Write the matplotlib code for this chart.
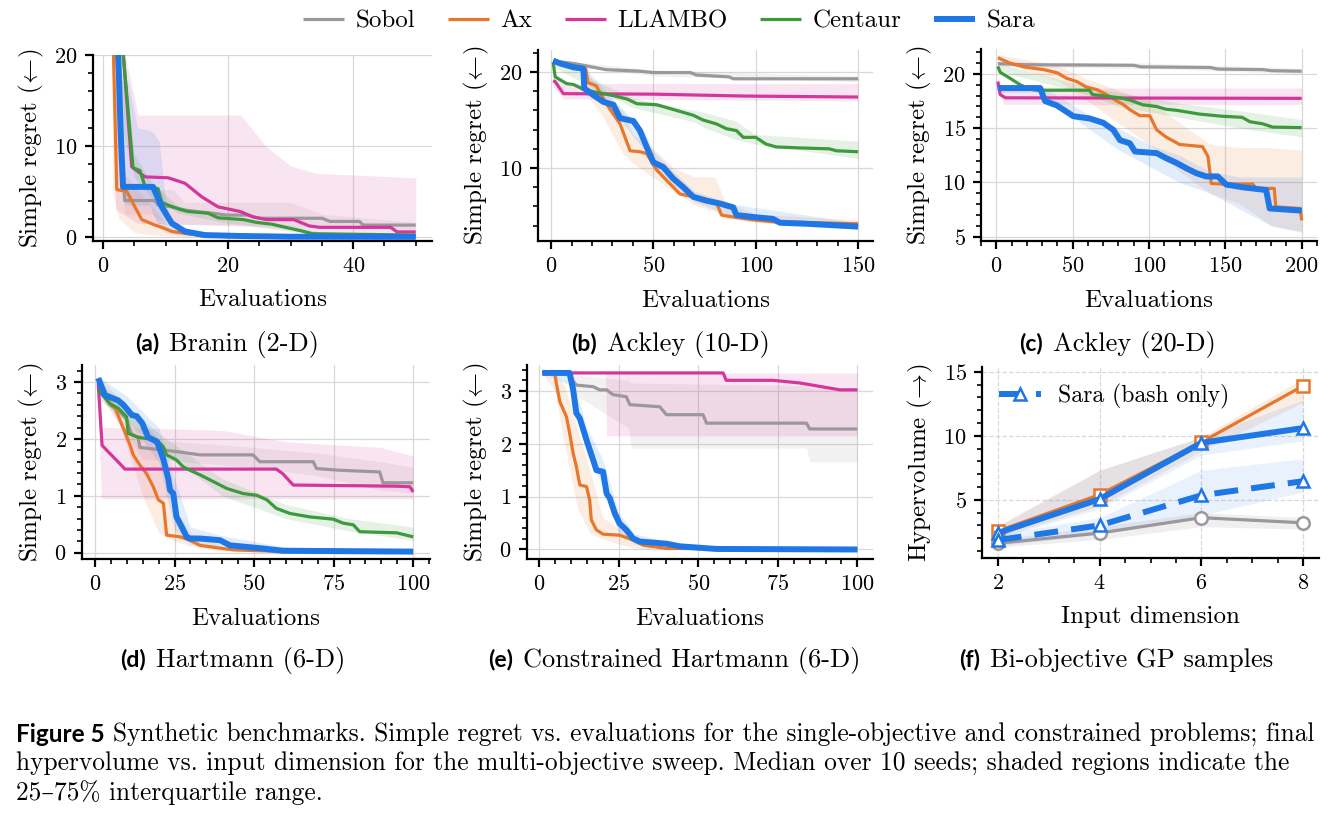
import numpy as np
import matplotlib.pyplot as plt
from matplotlib.ticker import MultipleLocator

plt.rcParams['font.family'] = ['cmr10', 'DejaVu Serif']
plt.rcParams['mathtext.fontset'] = 'cm'
plt.rcParams['axes.formatter.use_mathtext'] = True

SOBOL = '#9c979c'
AX = '#e8762b'
LLAMBO = '#d4369b'
CENTAUR = '#3c9a3c'
SARA = '#1f77e6'

methods = ['Sobol', 'Ax', 'LLAMBO', 'Centaur', 'Sara']

# ---------------- (a) Branin (2-D) ----------------
bran_sobol_x = [1, 2, 3.5, 8.3, 8.8, 11, 13.4, 17.6, 19.8, 23, 25, 35, 36.3, 41, 41.6, 50]
bran_sobol_y = [38, 22, 4.0, 4.0, 3.5, 3.3, 2.9, 2.6, 2.4, 2.4, 2.05, 2.05, 1.7, 1.7, 1.3, 1.3]
bran_ax_x = [1, 1.5, 2.2, 3.8, 5.1, 6.2, 8.3, 9.6, 11, 13.1, 16, 20, 50]
bran_ax_y = [40, 25, 5.2, 5.0, 3.3, 1.9, 1.3, 1.0, 0.6, 0.4, 0.1, 0.03, 0.0]
bran_llambo_x = [1, 2, 3.25, 4.6, 6.7, 10.4, 13.1, 15.8, 18.4, 21.9, 24, 26.2, 30.5, 33, 34.7, 46, 47, 50]
bran_llambo_y = [45, 32, 20, 7.7, 6.6, 6.5, 5.9, 4.4, 3.3, 2.8, 2.2, 1.9, 1.9, 1.2, 1.05, 1.05, 0.55, 0.55]
bran_centaur_x = [1, 2, 3.5, 4.8, 5.9, 6.7, 8.8, 9.4, 10.4, 12.4, 13.6, 16.8, 18.4, 22.5, 24.5, 27, 29.5, 31.5, 33.5, 50]
bran_centaur_y = [40, 30, 18, 7.6, 7.3, 5.6, 5.3, 3.8, 3.5, 3.0, 2.8, 2.6, 2.1, 1.9, 1.6, 1.4, 1.0, 0.7, 0.35, 0.2]
bran_sara_x = [1, 2, 2.8, 3.2, 8, 9.4, 11, 13.1, 16.3, 22, 30, 50]
bran_sara_y = [45, 30, 12, 5.5, 5.5, 3.3, 1.5, 0.6, 0.2, 0.1, 0.02, 0.0]

# IQR bands (x, lower, upper)
bran_sobol_band = ([2, 3.5, 8, 8.6, 11.3, 13, 30, 35, 50],
                   [10, 2.5, 2.5, 2.0, 1.5, 1.4, 1.2, 1.0, 0.8],
                   [30, 5.5, 5.5, 5.2, 5.2, 3.8, 3.8, 2.5, 1.6])
bran_ax_band = ([1.5, 2.5, 5, 7, 10, 14], [5, 2, 0.5, 0.3, 0.1, 0], [25, 8, 5.5, 4, 1.5, 0.5])
bran_llambo_band = ([2, 5.6, 22, 26, 30, 34, 50],
                    [3, 1.5, 1.2, 1.0, 0.6, 0.3, 0.2],
                    [25, 13.4, 13.4, 10, 7.8, 7.0, 6.5])
bran_centaur_band = ([3, 5, 8, 12, 20, 30, 35, 50],
                     [12, 6.5, 4.2, 2.6, 1.5, 0.8, 0.1, 0.05],
                     [22, 9, 5.8, 3.4, 2.2, 1.3, 0.5, 0.35])
bran_sara_band = ([2.5, 3, 4, 5.5, 7.5, 8, 9, 10, 11, 14],
                  [12, 4.0, 3.5, 3.5, 3.5, 2.5, 1.0, 0.5, 0.3, 0.1],
                  [20, 17.2, 17.2, 12, 11.7, 11.5, 10.5, 4, 1.5, 0.8])

# ---------------- (b) Ackley (10-D) ----------------
ack10_sobol_x = [1, 11, 20.7, 27, 43, 50, 68, 71, 87, 89, 150]
ack10_sobol_y = [21.15, 20.9, 20.5, 20.25, 20.1, 19.95, 19.95, 19.7, 19.5, 19.3, 19.3]
ack10_ax_x = [1, 10, 17, 18, 22, 27, 33.7, 38.6, 43.4, 46.7, 51.6, 56.5, 63, 69.5, 76, 81, 83.3, 89, 98.7, 108.5, 150]
ack10_ax_y = [21.1, 20.6, 20.3, 18.9, 18.6, 16.7, 14.6, 11.8, 11.7, 11.5, 9.8, 8.7, 7.3, 7.0, 6.6, 6.3, 5.1, 4.9, 4.6, 4.4, 4.2]
ack10_llambo_x = [1, 2, 6, 50, 95, 150]
ack10_llambo_y = [19.1, 19.0, 17.75, 17.7, 17.5, 17.4]
ack10_centaur_x = [1, 2, 7.6, 11, 15.8, 22, 30.4, 37, 42, 51.5, 56.5, 64.6, 69.5, 74.3, 80.8, 85.7, 90.6, 93.9,
                   100, 105, 110, 121.5, 136, 139.4, 150]
ack10_centaur_y = [21.0, 19.5, 18.8, 18.7, 18.2, 17.9, 17.55, 17.2, 16.7, 16.6, 16.3, 15.8, 15.5, 15.0, 14.6, 14.1,
                   13.9, 13.2, 13.2, 12.5, 12.2, 12.1, 12.0, 11.8, 11.7]
ack10_sara_x = [1, 4.4, 11, 15.8, 16.2, 20.7, 25.5, 30.4, 33.7, 40.2, 43.4, 46.7, 50, 54.8, 59.7, 64.6, 69.5, 76,
                82.5, 89, 90.6, 98.7, 108.5, 111.8, 124.8, 150]
ack10_sara_y = [21.2, 20.9, 20.5, 20.35, 18.3, 17.6, 16.9, 16.6, 15.2, 14.9, 13.9, 12.2, 10.6, 10.1, 8.9, 8.0, 7.0,
                6.6, 6.3, 5.9, 5.1, 4.9, 4.7, 4.3, 4.2, 3.9]

ack10_sobol_band = ([1, 50, 150], [20.9, 19.6, 19.0], [21.3, 20.2, 19.6])
ack10_ax_band = ([16, 25, 35, 40, 50, 60, 70, 75, 80, 85, 100, 150],
                 [18.0, 15.5, 11.5, 10.5, 9.0, 7.5, 6.2, 5.8, 5.5, 4.8, 4.3, 3.8],
                 [20.5, 17.5, 16.0, 13.5, 12.0, 10.0, 9.1, 9.1, 9.1, 6.5, 5.2, 4.6])
ack10_llambo_band = ([1, 6, 150], [18.5, 17.2, 17.0], [19.5, 18.8, 18.8])
ack10_centaur_band = ([1, 40, 70, 75, 90, 100, 150],
                      [20.5, 16.3, 14.8, 14.2, 13.0, 12.5, 11.0],
                      [21.2, 17.3, 16.0, 15.8, 14.9, 13.5, 12.8])
ack10_sara_band = ([1, 16, 30, 45, 50, 60, 70, 90, 150],
                   [21.0, 19.8, 16.0, 12.0, 9.8, 8.2, 6.5, 4.8, 3.6],
                   [21.4, 20.6, 17.2, 14.0, 11.8, 9.6, 7.6, 6.2, 4.3])

# ---------------- (c) Ackley (20-D) ----------------
ack20_sobol_x = [1, 20, 90, 95, 140, 145, 175, 180, 200]
ack20_sobol_y = [20.95, 20.85, 20.8, 20.65, 20.6, 20.45, 20.4, 20.3, 20.25]
ack20_ax_x = [1, 9, 18, 31, 40, 46, 52.7, 59, 66, 72, 79, 83, 87.5, 94, 100.5, 105, 111, 120, 135, 138.6, 140.8,
              148, 168, 170, 182, 183, 199, 200]
ack20_ax_y = [21.5, 21.0, 20.65, 20.4, 20.1, 19.6, 19.3, 18.8, 18.55, 18.1, 17.5, 17.2, 16.7, 16.15, 16.15, 14.85,
              14.2, 13.5, 13.3, 12.4, 9.9, 9.85, 9.85, 9.45, 9.45, 7.75, 7.6, 6.5]
ack20_llambo_x = [1, 2.6, 6, 200]
ack20_llambo_y = [19.3, 18.1, 17.8, 17.75]
ack20_centaur_x = [1, 2.6, 9, 15.7, 22, 26.5, 61, 63, 81, 87.5, 96, 105, 111, 118, 133, 148, 161, 166, 174.5, 181, 200]
ack20_centaur_y = [20.7, 20.15, 19.6, 19.0, 18.6, 18.5, 18.5, 18.1, 17.8, 17.6, 17.15, 17.0, 16.75, 16.65, 16.3,
                   16.1, 16.0, 15.6, 15.4, 15.1, 15.05]
ack20_sara_x = [1, 28.7, 32, 39.6, 44, 50.5, 61, 70, 76.6, 81, 87.5, 90.8, 105, 111, 118, 124.5, 131, 137.5, 145,
                150.6, 161.5, 176.7, 179, 200]
ack20_sara_y = [18.7, 18.7, 17.5, 17.1, 16.7, 16.1, 15.9, 15.5, 14.85, 13.9, 13.6, 12.85, 12.7, 12.25, 11.8, 11.3,
                10.85, 10.55, 10.55, 9.8, 9.55, 9.3, 7.6, 7.4]

ack20_sobol_band = ([1, 100, 200], [20.7, 20.5, 20.0], [21.1, 21.0, 20.5])
ack20_ax_band = ([1, 40, 60, 80, 100, 120, 140, 160, 180, 200],
                 [21.2, 19.4, 17.5, 15.5, 13.5, 11.0, 9.0, 8.0, 6.0, 5.5],
                 [21.8, 20.8, 19.5, 18.5, 17.5, 15.5, 13.5, 13.2, 13.2, 13.0])
ack20_llambo_band = ([1, 5, 200], [18.7, 17.2, 17.2], [19.6, 18.7, 18.7])
ack20_centaur_band = ([1, 60, 80, 120, 160, 200],
                      [20.3, 18.1, 17.0, 16.0, 15.0, 14.2],
                      [21.0, 18.8, 18.3, 17.3, 16.6, 15.8])
ack20_sara_band = ([1, 28, 60, 80, 100, 120, 140, 160, 180, 200],
                   [18.3, 18.3, 15.0, 13.0, 11.5, 10.0, 9.0, 7.5, 6.0, 5.4],
                   [19.0, 19.0, 16.3, 15.0, 13.5, 12.5, 11.0, 10.5, 10.5, 10.5])

# ---------------- (d) Hartmann (6-D) ----------------
hart_sobol_x = [1, 4.7, 7.3, 9.9, 11.5, 13.5, 14.1, 22.5, 26.7, 33, 49.7, 51.8, 68.6, 69.6, 77, 89.5, 90.5, 100]
hart_sobol_y = [2.9, 2.6, 2.5, 2.35, 2.08, 2.03, 1.85, 1.8, 1.77, 1.72, 1.72, 1.6, 1.6, 1.48, 1.45, 1.42, 1.23, 1.23]
hart_ax_x = [1, 3.7, 6.3, 9.4, 11, 12, 14.1, 16.2, 18.3, 19.9, 21.5, 22.5, 26.7, 29.8, 33, 39.3, 43.5, 60, 100]
hart_ax_y = [3.06, 2.68, 2.54, 2.12, 1.89, 1.72, 1.54, 1.39, 1.16, 0.93, 0.87, 0.31, 0.28, 0.22, 0.13, 0.08, 0.05,
             0.02, 0.01]
hart_llambo_x = [1, 2.2, 3.7, 7.2, 9.4, 57, 59, 62.3, 94.8, 99, 100]
hart_llambo_y = [2.98, 1.89, 1.8, 1.6, 1.47, 1.47, 1.39, 1.19, 1.17, 1.16, 1.07]
hart_centaur_x = [1, 4.7, 7.3, 9.9, 10.4, 13.5, 19.4, 21.5, 22.5, 25.6, 27.7, 29.8, 33, 37.2, 41.4, 46.6, 50.8, 54,
                  57, 61.3, 67.5, 74.9, 78, 81.2, 83.2, 94.8, 100]
hart_centaur_y = [2.86, 2.62, 2.54, 2.39, 2.1, 2.03, 1.98, 1.86, 1.72, 1.63, 1.51, 1.45, 1.37, 1.25, 1.13, 1.04,
                  1.01, 0.93, 0.78, 0.69, 0.63, 0.59, 0.52, 0.49, 0.37, 0.35, 0.28]
hart_sara_x = [1, 3.1, 7.2, 8.9, 11.6, 13.1, 14.8, 16.7, 19.5, 21.4, 23, 23.6, 24.6, 25.6, 27.2, 28.8, 29.8, 33,
               39.3, 42.4, 51.8, 59, 100]
hart_sara_y = [3.07, 2.77, 2.68, 2.6, 2.42, 2.4, 2.28, 2.03, 1.95, 1.66, 1.31, 1.1, 1.04, 0.63, 0.46, 0.28, 0.25,
               0.25, 0.22, 0.13, 0.08, 0.035, 0.02]

hart_sobol_band = ([1, 15, 50, 70, 90, 100], [2.8, 1.65, 1.5, 1.35, 1.1, 1.05], [3.05, 2.0, 1.85, 1.75, 1.6, 1.5])
hart_ax_band = ([1, 8, 15, 20, 25, 30, 40], [2.9, 2.2, 1.0, 0.35, 0.2, 0.12, 0.03], [3.1, 2.7, 2.3, 2.0, 0.8, 0.35, 0.12])
hart_llambo_band = ([1, 2, 10, 40, 60, 90, 100],
                    [2.8, 0.95, 0.95, 0.95, 0.95, 0.95, 0.95],
                    [3.0, 2.2, 2.2, 2.15, 1.95, 1.85, 1.7])
hart_centaur_band = ([1, 20, 40, 60, 80, 100], [2.7, 1.85, 1.0, 0.6, 0.38, 0.22], [3.0, 2.1, 1.3, 0.85, 0.6, 0.45])
hart_sara_band = ([1, 10, 20, 25, 30, 40, 60, 100],
                  [2.9, 2.35, 1.6, 0.4, 0.15, 0.1, 0.01, 0.0],
                  [3.1, 2.75, 2.2, 1.3, 0.45, 0.3, 0.1, 0.05])

# ---------------- (e) Constrained Hartmann (6-D) ----------------
chart_sobol_x = [1, 8.6, 11.7, 17, 19, 21.2, 23.2, 27.4, 28.5, 37.9, 40, 51.5, 52.6, 84, 85, 100]
chart_sobol_y = [3.34, 3.34, 3.11, 3.08, 3.02, 3.02, 2.93, 2.89, 2.74, 2.7, 2.55, 2.55, 2.39, 2.39, 2.28, 2.28]
chart_ax_x = [1, 4.9, 5.4, 6.5, 8.6, 9.6, 10.7, 11.7, 12.8, 14.9, 15.9, 16.4, 18, 20.1, 25.3, 29.5, 32.7, 40, 100]
chart_ax_y = [3.34, 3.34, 3.15, 2.8, 2.51, 2.2, 1.82, 1.57, 1.22, 1.19, 0.93, 0.56, 0.37, 0.29, 0.27, 0.18, 0.08,
              0.02, 0.0]
chart_llambo_x = [1, 57.8, 58.8, 73.5, 81.9, 94.5, 100]
chart_llambo_y = [3.34, 3.34, 3.2, 3.2, 3.15, 3.02, 3.02]
chart_sara_x = [1, 9.6, 10.7, 11.7, 12.8, 14.9, 17, 18, 20.1, 21.2, 22.2, 23.8, 25.3, 27.4, 29.5, 31.6, 40, 44.2,
                55.7, 100]
chart_sara_y = [3.34, 3.34, 3.02, 2.58, 2.48, 2.07, 1.69, 1.5, 1.47, 1.06, 0.97, 0.68, 0.49, 0.37, 0.21, 0.15, 0.11,
                0.06, 0.01, 0.0]

chart_sobol_band = ([1, 8, 12, 20, 28, 29, 84, 85, 100],
                    [3.34, 3.34, 2.9, 2.6, 2.3, 1.92, 1.92, 1.66, 1.66],
                    [3.34, 3.34, 3.3, 3.25, 3.2, 3.15, 3.1, 3.05, 3.05])
chart_ax_band = ([1, 5, 8, 12, 16, 20, 25, 30, 35],
                 [3.34, 3.0, 2.0, 0.8, 0.3, 0.2, 0.1, 0.03, 0.0],
                 [3.34, 3.34, 3.1, 2.3, 1.5, 0.6, 0.4, 0.25, 0.1])
chart_llambo_band = ([20.9, 21.2, 100], [3.34, 2.15, 2.15], [3.34, 3.34, 3.34])
chart_sara_band = ([1, 10, 15, 20, 25, 30, 40, 60],
                   [3.34, 3.1, 1.8, 1.2, 0.3, 0.1, 0.05, 0.0],
                   [3.34, 3.34, 2.3, 1.7, 0.7, 0.3, 0.15, 0.03])

# ---------------- (f) Bi-objective GP samples ----------------
dims = [2, 4, 6, 8]
mo_sobol = [1.6, 2.4, 3.6, 3.2]
mo_ax = [2.55, 5.4, 9.5, 13.9]
mo_sara = [2.4, 5.05, 9.45, 10.6]
mo_sara_bash = [1.85, 3.0, 5.35, 6.45]
mo_sobol_lo, mo_sobol_hi = [1.3, 1.9, 2.9, 2.7], [1.9, 2.9, 4.0, 3.6]
mo_ax_lo, mo_ax_hi = [2.1, 4.5, 8.8, 12.6], [3.0, 7.3, 9.9, 14.5]
mo_sara_lo, mo_sara_hi = [2.0, 4.3, 8.5, 9.6], [2.9, 7.3, 9.9, 12.8]
mo_bash_lo, mo_bash_hi = [1.4, 2.3, 3.8, 5.6], [2.3, 3.6, 7.3, 8.2]

colors = {'Sobol': SOBOL, 'Ax': AX, 'LLAMBO': LLAMBO, 'Centaur': CENTAUR, 'Sara': SARA}
widths = {'Sobol': 2.3, 'Ax': 2.3, 'LLAMBO': 2.3, 'Centaur': 2.3, 'Sara': 4.3}

TICK = 16
LAB = 18
SERIF = ['cmr10', 'DejaVu Serif']

W, H = 1336, 815
fig = plt.figure(figsize=(W / 100, H / 100), dpi=100)


def box(l, t, r, b):
    return [l / W, 1 - b / H, (r - l) / W, (b - t) / H]


def style(ax, xmaj, xmin, ymaj, ymin, dashed=False):
    for s in ['top', 'right']:
        ax.spines[s].set_visible(False)
    for s in ['left', 'bottom']:
        ax.spines[s].set_linewidth(1.6)
    ax.xaxis.set_major_locator(MultipleLocator(xmaj))
    ax.xaxis.set_minor_locator(MultipleLocator(xmin))
    ax.yaxis.set_major_locator(MultipleLocator(ymaj))
    ax.yaxis.set_minor_locator(MultipleLocator(ymin))
    ax.tick_params(which='major', length=6, width=1.6, labelsize=TICK, pad=5)
    ax.tick_params(which='minor', length=3.5, width=1.2)
    ax.grid(True, which='major', color='#d8d8d8', lw=0.9, ls='--' if dashed else '-')
    ax.set_axisbelow(True)


def regret_panel(rect, data, xlim, ylim, xt, yt):
    ax = fig.add_axes(box(*rect))
    lines = {}
    for name, x, y, band in data:
        bx, lo, hi = band
        ax.fill_between(bx, lo, hi, color=colors[name], alpha=0.13, lw=0)
    for name, x, y, band in data:
        ln, = ax.plot(x, y, color=colors[name], lw=widths[name], label=name,
                      solid_capstyle='butt', zorder=3 if name != 'Sara' else 4)
        lines[name] = ln
    ax.set_xlim(*xlim)
    ax.set_ylim(*ylim)
    style(ax, *xt, *yt)
    ax.set_xlabel('Evaluations', fontsize=LAB, labelpad=9.5)
    ax.set_ylabel(r'Simple regret $(\!\leftarrow\!)$', fontsize=LAB, labelpad=6)
    return ax, lines


ax_a, lines = regret_panel((93, 55, 432, 241), [
    ('Sobol', bran_sobol_x, bran_sobol_y, bran_sobol_band),
    ('Ax', bran_ax_x, bran_ax_y, bran_ax_band),
    ('LLAMBO', bran_llambo_x, bran_llambo_y, bran_llambo_band),
    ('Centaur', bran_centaur_x, bran_centaur_y, bran_centaur_band),
    ('Sara', bran_sara_x, bran_sara_y, bran_sara_band)],
    (-1.6, 52.6), (-0.45, 20), (20, 5), (10, 2))

regret_panel((538, 50, 873, 241), [
    ('Sobol', ack10_sobol_x, ack10_sobol_y, ack10_sobol_band),
    ('Ax', ack10_ax_x, ack10_ax_y, ack10_ax_band),
    ('LLAMBO', ack10_llambo_x, ack10_llambo_y, ack10_llambo_band),
    ('Centaur', ack10_centaur_x, ack10_centaur_y, ack10_centaur_band),
    ('Sara', ack10_sara_x, ack10_sara_y, ack10_sara_band)],
    (-6.4, 157.3), (2.4, 22.3), (50, 10), (10, 2))

regret_panel((981, 49, 1317, 241), [
    ('Sobol', ack20_sobol_x, ack20_sobol_y, ack20_sobol_band),
    ('Ax', ack20_ax_x, ack20_ax_y, ack20_ax_band),
    ('LLAMBO', ack20_llambo_x, ack20_llambo_y, ack20_llambo_band),
    ('Centaur', ack20_centaur_x, ack20_centaur_y, ack20_centaur_band),
    ('Sara', ack20_sara_x, ack20_sara_y, ack20_sara_band)],
    (-10, 210), (4.6, 22.3), (50, 10), (5, 1))

regret_panel((82, 365, 430, 559), [
    ('Sobol', hart_sobol_x, hart_sobol_y, hart_sobol_band),
    ('Ax', hart_ax_x, hart_ax_y, hart_ax_band),
    ('LLAMBO', hart_llambo_x, hart_llambo_y, hart_llambo_band),
    ('Centaur', hart_centaur_x, hart_centaur_y, hart_centaur_band),
    ('Sara', hart_sara_x, hart_sara_y, hart_sara_band)],
    (-4.1, 105.3), (-0.11, 3.3), (25, 5), (1, 0.2))

regret_panel((527, 365, 873, 559), [
    ('Sobol', chart_sobol_x, chart_sobol_y, chart_sobol_band),
    ('Ax', chart_ax_x, chart_ax_y, chart_ax_band),
    ('LLAMBO', chart_llambo_x, chart_llambo_y, chart_llambo_band),
    ('Sara', chart_sara_x, chart_sara_y, chart_sara_band)],
    (-3.8, 104.9), (-0.18, 3.49), (25, 5), (1, 0.2))

# (f) hypervolume sweep
ax_f = fig.add_axes(box(982, 367, 1319, 558))
ax_f.fill_between(dims, mo_sobol_lo, mo_sobol_hi, color=SOBOL, alpha=0.15, lw=0)
ax_f.fill_between(dims, mo_ax_lo, mo_ax_hi, color=AX, alpha=0.13, lw=0)
ax_f.fill_between(dims, mo_sara_lo, mo_sara_hi, color=SARA, alpha=0.10, lw=0)
ax_f.fill_between(dims, mo_bash_lo, mo_bash_hi, color=SARA, alpha=0.10, lw=0)
mk = dict(markersize=9, markeredgewidth=1.8, markerfacecolor='white')
ax_f.plot(dims, mo_sobol, color=SOBOL, lw=2.3, marker='o', markeredgecolor=SOBOL, **mk)
ax_f.plot(dims, mo_ax, color=AX, lw=2.3, marker='s', markeredgecolor=AX, **mk)
ax_f.plot(dims, mo_sara, color=SARA, lw=4.3, marker='^', markeredgecolor=SARA, **mk)
bash, = ax_f.plot(dims, mo_sara_bash, color=SARA, lw=4.3, ls=(0, (4, 2.2)), marker='^',
                  markeredgecolor=SARA, label='Sara (bash only)', **mk)
ax_f.set_xlim(1.69, 8.31)
ax_f.set_ylim(0.45, 15.37)
style(ax_f, 2, 0.5, 5, 1, dashed=True)
ax_f.set_xlabel('Input dimension', fontsize=LAB, labelpad=9.5)
ax_f.set_ylabel(r'Hypervolume $(\!\rightarrow\!)$', fontsize=LAB, labelpad=6)
ax_f.legend(handles=[bash], loc='upper left', frameon=False, prop={'family': SERIF, 'size': 17},
            handlelength=1.8, handletextpad=0.7, borderaxespad=0.3, bbox_to_anchor=(0.0, 1.0))

# shared legend on top
fig.legend([lines[m] for m in methods], methods, loc='center', ncol=5, frameon=False,
           bbox_to_anchor=(669 / W, 1 - 21 / H), prop={'family': SERIF, 'size': 18},
           handlelength=1.65, columnspacing=1.3, handletextpad=0.45)

# sub-captions
subcaps = [(159, 344, '(a)', 'Branin (2-D)'),
           (597, 344, '(b)', 'Ackley (10-D)'),
           (1043, 344, '(c)', 'Ackley (20-D)'),
           (146, 660, '(d)', 'Hartmann (6-D)'),
           (513, 660, '(e)', 'Constrained Hartmann (6-D)'),
           (980, 660, '(f)', 'Bi-objective GP samples')]
for xr, yc, tag, txt in subcaps:
    fig.text(xr / W, 1 - yc / H, tag, ha='right', va='center', fontsize=16.5,
             fontweight='bold', family='Lato')
    fig.text((xr + 10) / W, 1 - yc / H, txt, ha='left', va='center', fontsize=19)

# figure caption
fig.text(16 / W, 1 - 734 / H, 'Figure 5', ha='left', va='center', fontsize=17.5,
         fontweight='bold', family='Lato')
fig.text(113 / W, 1 - 734 / H,
         'Synthetic benchmarks. Simple regret vs. evaluations for the single-objective and constrained problems; final',
         ha='left', va='center', fontsize=18.3)
fig.text(16 / W, 1 - 763 / H,
         'hypervolume vs. input dimension for the multi-objective sweep. Median over 10 seeds; shaded regions indicate the',
         ha='left', va='center', fontsize=18.3)
fig.text(16 / W, 1 - 793 / H, '25\u201375% interquartile range.', ha='left', va='center', fontsize=18.3)

fig.savefig('out.png', dpi=100)
